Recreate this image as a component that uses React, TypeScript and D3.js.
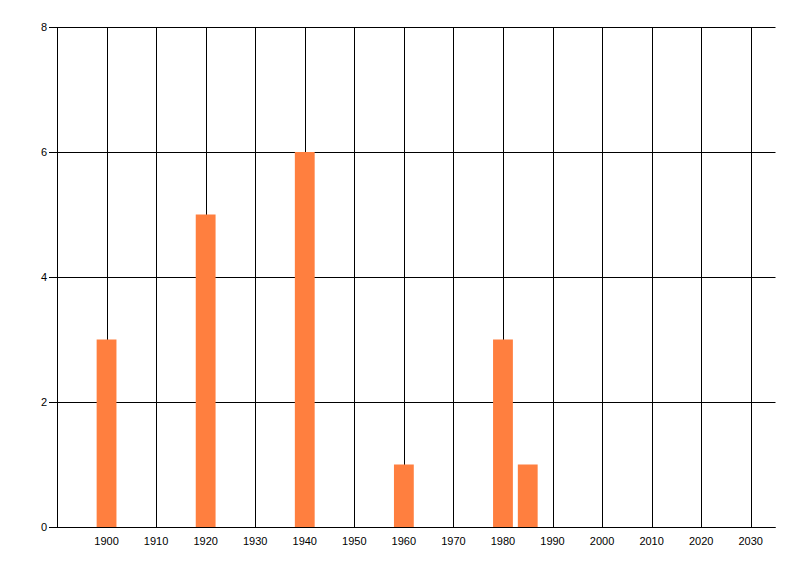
import React from "react";
import * as d3 from "d3";

const years = [1900, 1920, 1940, 1960, 1980, 1985];
const counts = [3, 5, 6, 1, 3, 1];
const xTicks = [1900, 1910, 1920, 1930, 1940, 1950, 1960, 1970, 1980, 1990, 2000, 2010, 2020, 2030];
const yTicks = [0, 2, 4, 6, 8];

const W = 800, H = 576;
const left = 57, right = 775.5, top = 27, bottom = 527;

export default function App() {
  const x = d3.scaleLinear().domain([1890, 2035]).range([left, right]);
  const y = d3.scaleLinear().domain([0, 8]).range([bottom, top]);
  const barW = x(1904) - x(1900);
  const font = "'Liberation Sans', Arial, sans-serif";
  const snap = (v: number) => Math.round(v) + 0.5;
  return (
    <svg width={W} height={H} style={{ position: "absolute", left: 0, top: 0, background: "#fff" }}>
      <rect width={W} height={H} fill="#fff" />
      {xTicks.map((t) => (
        <line key={"gx" + t} x1={snap(x(t))} x2={snap(x(t))} y1={top} y2={bottom} stroke="#000" strokeWidth={1} />
      ))}
      {yTicks.map((t) => (
        <line key={"gy" + t} x1={left - 8} x2={right} y1={snap(y(t))} y2={snap(y(t))} stroke="#000" strokeWidth={1} />
      ))}
      {years.map((yr, i) => (
        <rect key={"b" + yr} x={x(yr) - barW / 2} width={barW} y={y(counts[i])} height={y(0) - y(counts[i])} fill="#FF7F3F" />
      ))}
      <line x1={snap(left)} x2={snap(left)} y1={top} y2={bottom} stroke="#000" strokeWidth={1} />
      <line x1={left} x2={right} y1={snap(bottom)} y2={snap(bottom)} stroke="#000" strokeWidth={1} />
      {yTicks.map((t) => (
        <text key={"ly" + t} x={left - 10} y={y(t)} dy="0.35em" textAnchor="end" fontFamily={font} fontSize={11} fill="#000">
          {t}
        </text>
      ))}
      {xTicks.map((t) => (
        <text key={"lx" + t} x={x(t)} y={bottom + 14} dy="0.35em" textAnchor="middle" fontFamily={font} fontSize={11} fill="#000">
          {t}
        </text>
      ))}
    </svg>
  );
}
